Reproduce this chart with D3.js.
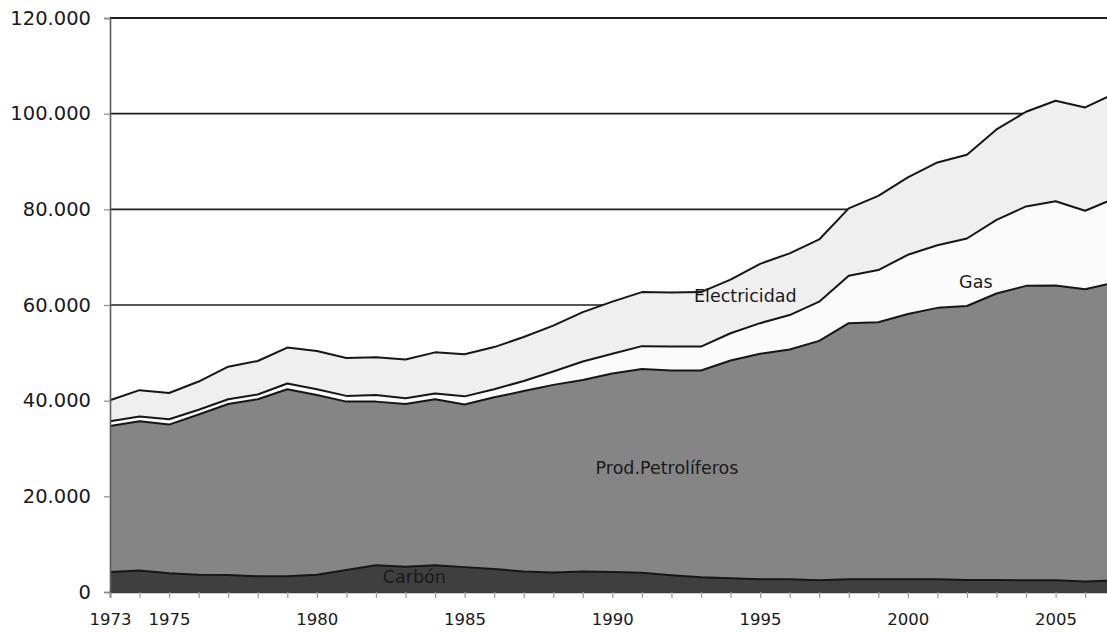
<!DOCTYPE html>
<html>
<head>
<meta charset="utf-8">
<script src="https://cdn.jsdelivr.net/npm/d3@7"></script>
<style>
  html, body { margin: 0; padding: 0; background: #ffffff; }
  svg { display: block; }
</style>
</head>
<body>
<svg id="chart" width="1107" height="632"></svg>
<script>
// ---- data ----
const years = d3.range(1973, 2008);
const carbon = [4200, 4500, 3900, 3600, 3550, 3300, 3300, 3600, 4600, 5600, 5300, 5600, 5200, 4800, 4300, 4100, 4300, 4200, 4000, 3500, 3100, 2900, 2650, 2650, 2450, 2650, 2650, 2650, 2650, 2500, 2500, 2450, 2450, 2200, 2400];
const petroleo = [30500, 31200, 31100, 33500, 35750, 37000, 39100, 37600, 35200, 34200, 34000, 34700, 34000, 35900, 37700, 39200, 40000, 41500, 42600, 42800, 43200, 45500, 47150, 48050, 50050, 53550, 53750, 55450, 56750, 57300, 59900, 61550, 61650, 61100, 62300];
const gas = [1000, 1000, 1100, 1000, 1000, 1000, 1200, 1200, 1200, 1400, 1200, 1200, 1700, 1700, 2100, 2800, 3900, 4100, 4800, 5000, 5000, 5700, 6400, 7200, 8200, 9900, 10900, 12400, 13100, 14100, 15400, 16600, 17600, 16400, 17600];
const electricidad = [4400, 5500, 5500, 5900, 6800, 7000, 7500, 8000, 7900, 7900, 8100, 8600, 8800, 8800, 9200, 9600, 10300, 10900, 11300, 11300, 11400, 11200, 12400, 12900, 13000, 14100, 15500, 16200, 17300, 17500, 18900, 19800, 21000, 21600, 21900];
const seriesKeys = ["carbon", "petroleo", "gas", "electricidad"];
const seriesNames = ["Carbón", "Prod.Petrolíferos", "Gas", "Electricidad"];
const yTicks = [0, 20000, 40000, 60000, 80000, 100000, 120000];
const xLabelYears = [1973, 1975, 1980, 1985, 1990, 1995, 2000, 2005];

// ---- layout ----
const svg = d3.select("#chart");
const x = d3.scaleLinear().domain([1973, 2007]).range([110, 1114.7]);
const y = d3.scaleLinear().domain([0, 120000]).range([592, 18]);

const locale = d3.formatLocale({ decimal: ",", thousands: ".", grouping: [3], currency: ["", ""] });
const fmt = locale.format(",d");
const FONT = "'DejaVu Sans', sans-serif";

const table = years.map((yr, i) => ({
  year: yr, carbon: carbon[i], petroleo: petroleo[i], gas: gas[i], electricidad: electricidad[i]
}));
const layers = d3.stack().keys(seriesKeys)(table);

const fills = { carbon: "#3f3f3f", petroleo: "#858585", gas: "#fbfbfb", electricidad: "#efefef" };

// gridlines (behind areas)
svg.append("g").selectAll("line").data(yTicks.filter(d => d > 0)).join("line")
  .attr("x1", 110).attr("x2", 1107)
  .attr("y1", d => y(d)).attr("y2", d => y(d))
  .attr("stroke", "#1e1e1e")
  .attr("stroke-width", d => d === 120000 ? 2.2 : 1.6);

// areas
const area = d3.area().x(d => x(d.data.year)).y0(d => y(d[0])).y1(d => y(d[1]));
const line = d3.line().x(d => x(d.data.year)).y(d => y(d[1]));
svg.append("g").selectAll("path").data(layers).join("path")
  .attr("d", area).attr("fill", d => fills[d.key]);
svg.append("g").selectAll("path").data(layers).join("path")
  .attr("d", line).attr("fill", "none")
  .attr("stroke", "#161616").attr("stroke-width", 2).attr("stroke-linejoin", "round");

// y axis
const yAxis = d3.axisLeft(y).tickValues(yTicks).tickSize(6).tickPadding(13).tickFormat(fmt);
const gy = svg.append("g").attr("transform", "translate(110,0)").call(yAxis);
gy.select(".domain").attr("stroke", "#5a5a5a").attr("stroke-width", 1.6);
gy.selectAll(".tick line").attr("stroke", "#8a8a8a").attr("stroke-width", 1.2);
gy.selectAll(".tick text").attr("font-family", FONT).attr("font-size", 19.5)
  .attr("fill", "#1a1a1a");

// x axis
const xAxis = d3.axisBottom(x).tickValues(years).tickSize(6).tickPadding(15)
  .tickFormat(d => xLabelYears.includes(d) ? String(d) : "");
const gx = svg.append("g").attr("transform", "translate(0,592)").call(xAxis);
gx.select(".domain").attr("stroke", "#3a3a3a").attr("stroke-width", 1.6);
gx.selectAll(".tick line").attr("stroke", "#9a9a9a").attr("stroke-width", 1.2);
gx.selectAll(".tick text").attr("font-family", FONT).attr("font-size", 16.5)
  .attr("fill", "#1a1a1a");

// series labels
const labelPos = [
  { name: seriesNames[0], year: 1983.3, value: 3100 },
  { name: seriesNames[1], year: 1991.85, value: 25900 },
  { name: seriesNames[2], year: 2002.3, value: 64800 },
  { name: seriesNames[3], year: 1994.5, value: 61900 }
];
svg.append("g").selectAll("text").data(labelPos).join("text")
  .attr("x", d => x(d.year)).attr("y", d => y(d.value))
  .attr("text-anchor", "middle").attr("dominant-baseline", "central")
  .attr("font-family", FONT).attr("font-size", 17.5)
  .attr("fill", "#1a1a1a")
  .text(d => d.name);
</script>
</body>
</html>
